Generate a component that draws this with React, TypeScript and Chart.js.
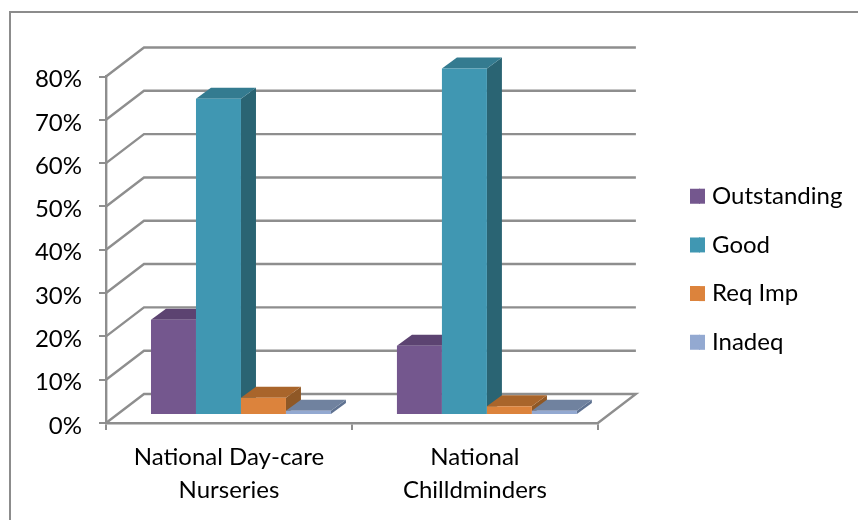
import React, { useEffect, useRef } from "react";
import { Chart, registerables } from "chart.js";

Chart.register(...registerables);

const categories = [["National Day-care", "Nurseries"], ["National", "Chilldminders"]];
const seriesNames = ["Outstanding", "Good", "Req Imp", "Inadeq"];
const outstanding = [22, 16];
const good = [73, 80];
const reqImp = [4, 2];
const inadeq = [1, 1];
const yTicks = [0, 10, 20, 30, 40, 50, 60, 70, 80];

const frontColors = ["#74578E", "#4097B2", "#DC833C", "#93A9D1"];
const topColors = ["#5C4371", "#347B90", "#A9652B", "#70829F"];
const sideColors = ["#5C4371", "#2A6473", "#8F5826", "#5F7291"];

const FONT = "Lato";
const FONT_SIZE = 24;
const FLOOR_DX = 38;
const FLOOR_DY = -29;
const BAR_DX = 15;
const BAR_DY = -11;
const BAR_SHIFT_X = 12;
const BAR_SHIFT_Y = -8;
const GRID = "#8E8E8E";
const GRID_WIDTH = 2.4;
const LEGEND_PAD = 24.7;

function poly(ctx: CanvasRenderingContext2D, pts: number[][], fill: string) {
  ctx.beginPath();
  pts.forEach((p, i) => (i ? ctx.lineTo(p[0], p[1]) : ctx.moveTo(p[0], p[1])));
  ctx.closePath();
  ctx.fillStyle = fill;
  ctx.fill();
}

const threeD = {
  id: "threeD",
  beforeDraw(chart: any) {
    const { ctx } = chart;
    ctx.save();
    ctx.strokeStyle = "#8C8C8C";
    ctx.lineWidth = 2;
    ctx.beginPath();
    ctx.moveTo(10, 520);
    ctx.lineTo(10, 12);
    ctx.lineTo(858, 12);
    ctx.stroke();
    ctx.restore();
  },
  beforeDatasetsDraw(chart: any) {
    const { ctx, chartArea: a, scales } = chart;
    const yS = scales.y;
    ctx.save();
    ctx.strokeStyle = GRID;
    ctx.lineWidth = GRID_WIDTH;
    ctx.lineCap = "butt";
    yS.ticks.forEach((t: any) => {
      const y = yS.getPixelForValue(t.value);
      ctx.beginPath();
      ctx.moveTo(a.left, y);
      ctx.lineTo(a.left + FLOOR_DX, y + FLOOR_DY);
      ctx.lineTo(a.right + FLOOR_DX, y + FLOOR_DY);
      if (t.value === 0) ctx.lineTo(a.right, y);
      ctx.stroke();
    });
    // Bars are drawn left to right, so each one overlaps the side of the previous bar.
    chart.data.labels.forEach((_: any, idx: number) => {
      chart.data.datasets.forEach((_d: any, ds: number) => {
        const el = chart.getDatasetMeta(ds).data[idx];
        const l = el.x - el.width / 2 + BAR_SHIFT_X;
        const r = el.x + el.width / 2 + BAR_SHIFT_X;
        const top = el.y + BAR_SHIFT_Y;
        const base = el.base + BAR_SHIFT_Y;
        poly(ctx, [[r, top], [r + BAR_DX, top + BAR_DY], [r + BAR_DX, base + BAR_DY], [r, base]], sideColors[ds]);
        poly(ctx, [[l, top], [l + BAR_DX, top + BAR_DY], [r + BAR_DX, top + BAR_DY], [r, top]], topColors[ds]);
        poly(ctx, [[l, top], [r, top], [r, base], [l, base]], frontColors[ds]);
      });
    });
    ctx.restore();
    return false;
  },
  afterLayout(chart: any) {
    const lg = chart.legend;
    lg.top -= 29;
    lg.bottom -= 29;
    lg.left = 690 - LEGEND_PAD;
    lg.right = 858;
  },
  afterDraw(chart: any) {
    const { ctx, legend } = chart;
    ctx.save();
    legend.legendHitBoxes.forEach((hb: any, i: number) => {
      ctx.fillStyle = frontColors[i];
      ctx.fillRect(hb.left + 9, hb.top + (hb.height - 15) / 2, 6, 15);
    });
    ctx.restore();
  },
};

export default function App() {
  const ref = useRef<HTMLCanvasElement>(null);
  useEffect(() => {
    document.body.style.margin = "0";
    const values = [outstanding, good, reqImp, inadeq];
    const chart = new Chart(ref.current!, {
      type: "bar",
      data: {
        labels: categories as any,
        datasets: seriesNames.map((label, i) => ({
          label,
          data: values[i],
          backgroundColor: frontColors[i],
          categoryPercentage: 180 / 246,
          barPercentage: 1,
        })),
      },
      plugins: [threeD],
      options: {
        responsive: false,
        animation: false,
        layout: { padding: { top: 76.5, left: 0, right: 73, bottom: 0 } },
        plugins: {
          tooltip: { enabled: false },
          legend: {
            position: "right",
            align: "center",
            labels: {
              color: "#000",
              font: { family: FONT, size: FONT_SIZE },
              boxWidth: 10,
              boxHeight: 15,
              padding: LEGEND_PAD,
            },
          },
        },
        scales: {
          x: {
            grid: { drawOnChartArea: false, color: GRID, lineWidth: 2, tickLength: 7 },
            border: { color: GRID, width: GRID_WIDTH },
            ticks: { color: "#000", font: { family: FONT, size: FONT_SIZE, lineHeight: 1.375 }, padding: 11, maxRotation: 0, autoSkip: false },
            afterFit(s: any) { s.height = 97; },
          },
          y: {
            min: 0,
            max: 80,
            afterBuildTicks(s: any) { s.ticks = yTicks.map((value) => ({ value })); },
            grid: { drawOnChartArea: false, color: GRID, lineWidth: 2, tickLength: 7 },
            border: { color: GRID, width: GRID_WIDTH },
            ticks: { color: "#000", font: { family: FONT, size: FONT_SIZE }, padding: 17, labelOffset: 3, callback: (v: any) => v + "%" },
            afterFit(s: any) { s.width = 106; },
          },
        },
      },
    } as any);
    return () => chart.destroy();
  }, []);
  return <canvas ref={ref} width={858} height={520} style={{ display: "block" }} />;
}
